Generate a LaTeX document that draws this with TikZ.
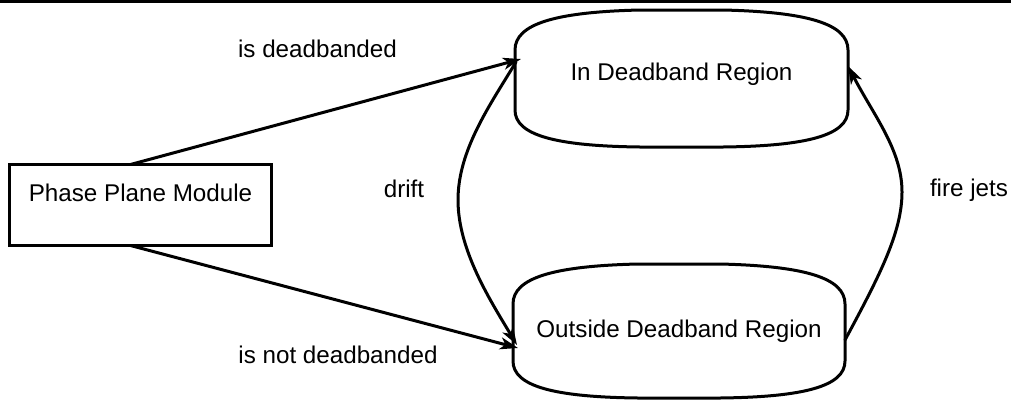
\documentclass[tikz,border=0pt]{standalone}
\usepackage{fontspec}
\setmainfont{Liberation Sans}
\usetikzlibrary{arrows.meta,calc}

\tikzset{
  txt/.style={font=\fontsize{24.2pt}{29pt}\selectfont, inner sep=0pt, outer sep=0pt},
  lbl/.style={txt, anchor=base},
  statenode/.style={txt, draw=none, minimum width=#1, outer sep=0pt},
  module/.style={txt, draw, line width=3pt, minimum width=262pt, minimum height=81pt,
    text height=17pt, text depth=25pt},
  conn/.style={line width=3pt, line cap=round,
    -{Stealth[length=18pt,width=12pt,inset=5pt]}},
  outline/.style={line width=3pt}
}

\begin{document}
\begin{tikzpicture}[x=1pt, y=-1pt]
  \useasboundingbox (0,0) rectangle (1011,402);

  % rule across the top
  \fill (0,0) rectangle (1011,3);

  % nodes
  \node[module] (ppm) at (140.5,205) {Phase Plane Module};
  \node[statenode=333pt, minimum height=137pt, text height=17pt, text depth=14pt]
    (in) at (681.5,78.5) {In Deadband Region};
  \node[statenode=332pt, minimum height=134pt, text height=17pt, text depth=5pt]
    (out) at (679,331) {Outside Deadband Region};

  % rounded outlines of the two states
  \foreach \n in {in,out} {
    \draw[outline]
      ($(\n.north west)+(0,40)$)
        .. controls ($(\n.north west)+(0,14)$) and ($(\n.north west)+(40,2)$)
        .. ($(\n.north west)+(125,0)$)
      -- ($(\n.north east)+(-125,0)$)
        .. controls ($(\n.north east)+(-40,2)$) and ($(\n.north east)+(0,14)$)
        .. ($(\n.north east)+(0,40)$)
      -- ($(\n.south east)+(0,-37)$)
        .. controls ($(\n.south east)+(0,-12)$) and ($(\n.south east)+(-40,-1)$)
        .. ($(\n.south east)+(-125,0)$)
      -- ($(\n.south west)+(125,0)$)
        .. controls ($(\n.south west)+(40,-1)$) and ($(\n.south west)+(0,-12)$)
        .. ($(\n.south west)+(0,-37)$)
      -- cycle;
  }

  % transitions
  \draw[conn] ($(ppm.north)+(-10,0)$) -- ($(in.north west)+(6,49)$);
  \draw[conn] ($(ppm.south)+(-10,0)$) -- ($(out.north west)+(5,84)$);

  \coordinate (dtop) at ($(in.north west)+(1,52)$);
  \coordinate (dbot) at ($(out.north west)+(4,81)$);
  \draw[conn] (dtop)
      .. controls ($(dtop)+(-26,43)$) and (458,150) .. (458,200)
      .. controls (458,250) and ($(dbot)+(-27,-45)$) .. (dbot);

  \coordinate (fbot) at ($(out.north east)+(0,76)$);
  \coordinate (ftop) at ($(in.north east)+(0,56)$);
  \draw[conn] (fbot)
      .. controls ($(fbot)+(35,-65)$) and (902,232) .. (902,192)
      .. controls (902,150) and ($(ftop)+(26,50)$) .. (ftop);

  % transition labels
  \node[lbl] (ldead) at (317.5,57) {is deadbanded};
  \node[lbl] (lnotdead) at (338,363) {is not deadbanded};
  \node[lbl] (ldrift) at (404,197) {drift};
  \node[lbl] (lfire) at (969,196) {fire jets};
\end{tikzpicture}
\end{document}
